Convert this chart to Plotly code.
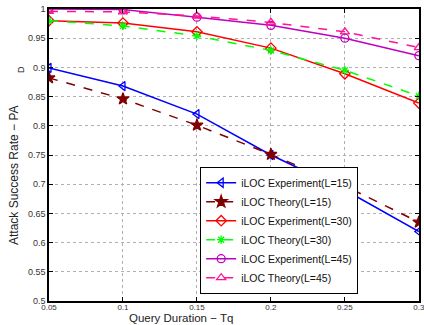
import plotly.graph_objects as go

tq = [0.05, 0.1, 0.15, 0.2, 0.25, 0.3]
exp15 = [0.899, 0.868, 0.820, 0.750, 0.690, 0.619]
th15 = [0.882, 0.846, 0.801, 0.751, 0.697, 0.635]
exp30 = [0.980, 0.976, 0.961, 0.933, 0.889, 0.839]
th30 = [0.980, 0.971, 0.954, 0.929, 0.895, 0.851]
exp45 = [1.000, 0.999, 0.986, 0.972, 0.950, 0.920]
th45 = [0.996, 0.995, 0.988, 0.977, 0.961, 0.934]

xticks = [0.05, 0.1, 0.15, 0.2, 0.25, 0.3]
xticklabels = ["0.05", "0.1", "0.15", "0.2", "0.25", "0.3"]
yticks = [0.5, 0.55, 0.6, 0.65, 0.7, 0.75, 0.8, 0.85, 0.9, 0.95, 1.0]
yticklabels = ["0.5", "0.55", "0.6", "0.65", "0.7", "0.75", "0.8", "0.85", "0.9", "0.95", "1"]

series = [
    ("iLOC Experiment(L=15)", exp15, "#0000ff", "solid", "triangle-left-open", 8),
    ("iLOC Theory(L=15)", th15, "#800000", "dash", "star", 9),
    ("iLOC Experiment(L=30)", exp30, "#ff0000", "solid", "diamond-open", 8),
    ("iLOC Theory(L=30)", th30, "#00ff00", "dash", "asterisk-open", 7),
    ("iLOC Experiment(L=45)", exp45, "#bf00bf", "solid", "circle-open", 8),
    ("iLOC Theory(L=45)", th45, "#ff1493", "dash", "triangle-up-open", 8),
]

fig = go.Figure()
for name, vals, col, dash, sym, sz in series:
    fig.add_trace(go.Scatter(
        x=tq, y=vals, name=name, mode="lines+markers",
        line=dict(color=col, width=1.5, dash=dash),
        marker=dict(symbol=sym, size=sz, color=col, line=dict(color=col, width=1.3)),
    ))

axis_common = dict(showline=True, linecolor="black", linewidth=1.5, mirror="ticks",
                   ticks="inside", ticklen=4, tickcolor="black",
                   showgrid=True, gridcolor="#b0b0b0", griddash="dot", gridwidth=1,
                   zeroline=False)

fig.update_xaxes(range=[0.05, 0.3001], tickvals=xticks, ticktext=xticklabels,
                 tickfont=dict(family="Liberation Sans, Arial", size=8, color="#333333"),
                 ticklabelstandoff=-2, ticklabeloverflow="allow", **axis_common)
fig.update_yaxes(range=[0.5, 1.0], tickvals=yticks, ticktext=yticklabels,
                 tickfont=dict(family="Liberation Sans, Arial", size=9, color="#333333"),
                 **axis_common)

fig.update_layout(
    width=424, height=325,
    margin=dict(l=49, r=5, t=9, b=24, autoexpand=False),
    paper_bgcolor="white", plot_bgcolor="white",
    font=dict(family="Liberation Sans, Arial", color="#222222"),
    showlegend=True,
    legend=dict(x=0.408, y=(301 - 294) / 292, xanchor="left", yanchor="bottom",
                bgcolor="white", bordercolor="black", borderwidth=1.2,
                font=dict(size=10.5, color="#111111"), tracegroupgap=0,
                itemwidth=30),
    annotations=[
        dict(text="Query Duration − Tq", xref="paper", yref="paper",
             x=(181 - 49) / 370, y=-(318 - 301) / 292, xanchor="center", yanchor="middle",
             showarrow=False, font=dict(size=11.5, color="#222222")),
        dict(text="Attack Success Rate − PA", xref="paper", yref="paper",
             x=-(49 - 14) / 370, y=(301 - 175) / 292, xanchor="center", yanchor="middle",
             textangle=-90, showarrow=False, font=dict(size=12, color="#222222")),
        dict(text="D", xref="paper", yref="paper",
             x=-(49 - 21) / 370, y=(301 - 70) / 292, xanchor="center", yanchor="middle",
             textangle=-90, showarrow=False, font=dict(size=9, color="#222222")),
    ],
)

fig.write_html("out.html", config={"displayModeBar": False},
               post_script="document.body.style.margin='0';document.body.style.overflow='hidden';")
